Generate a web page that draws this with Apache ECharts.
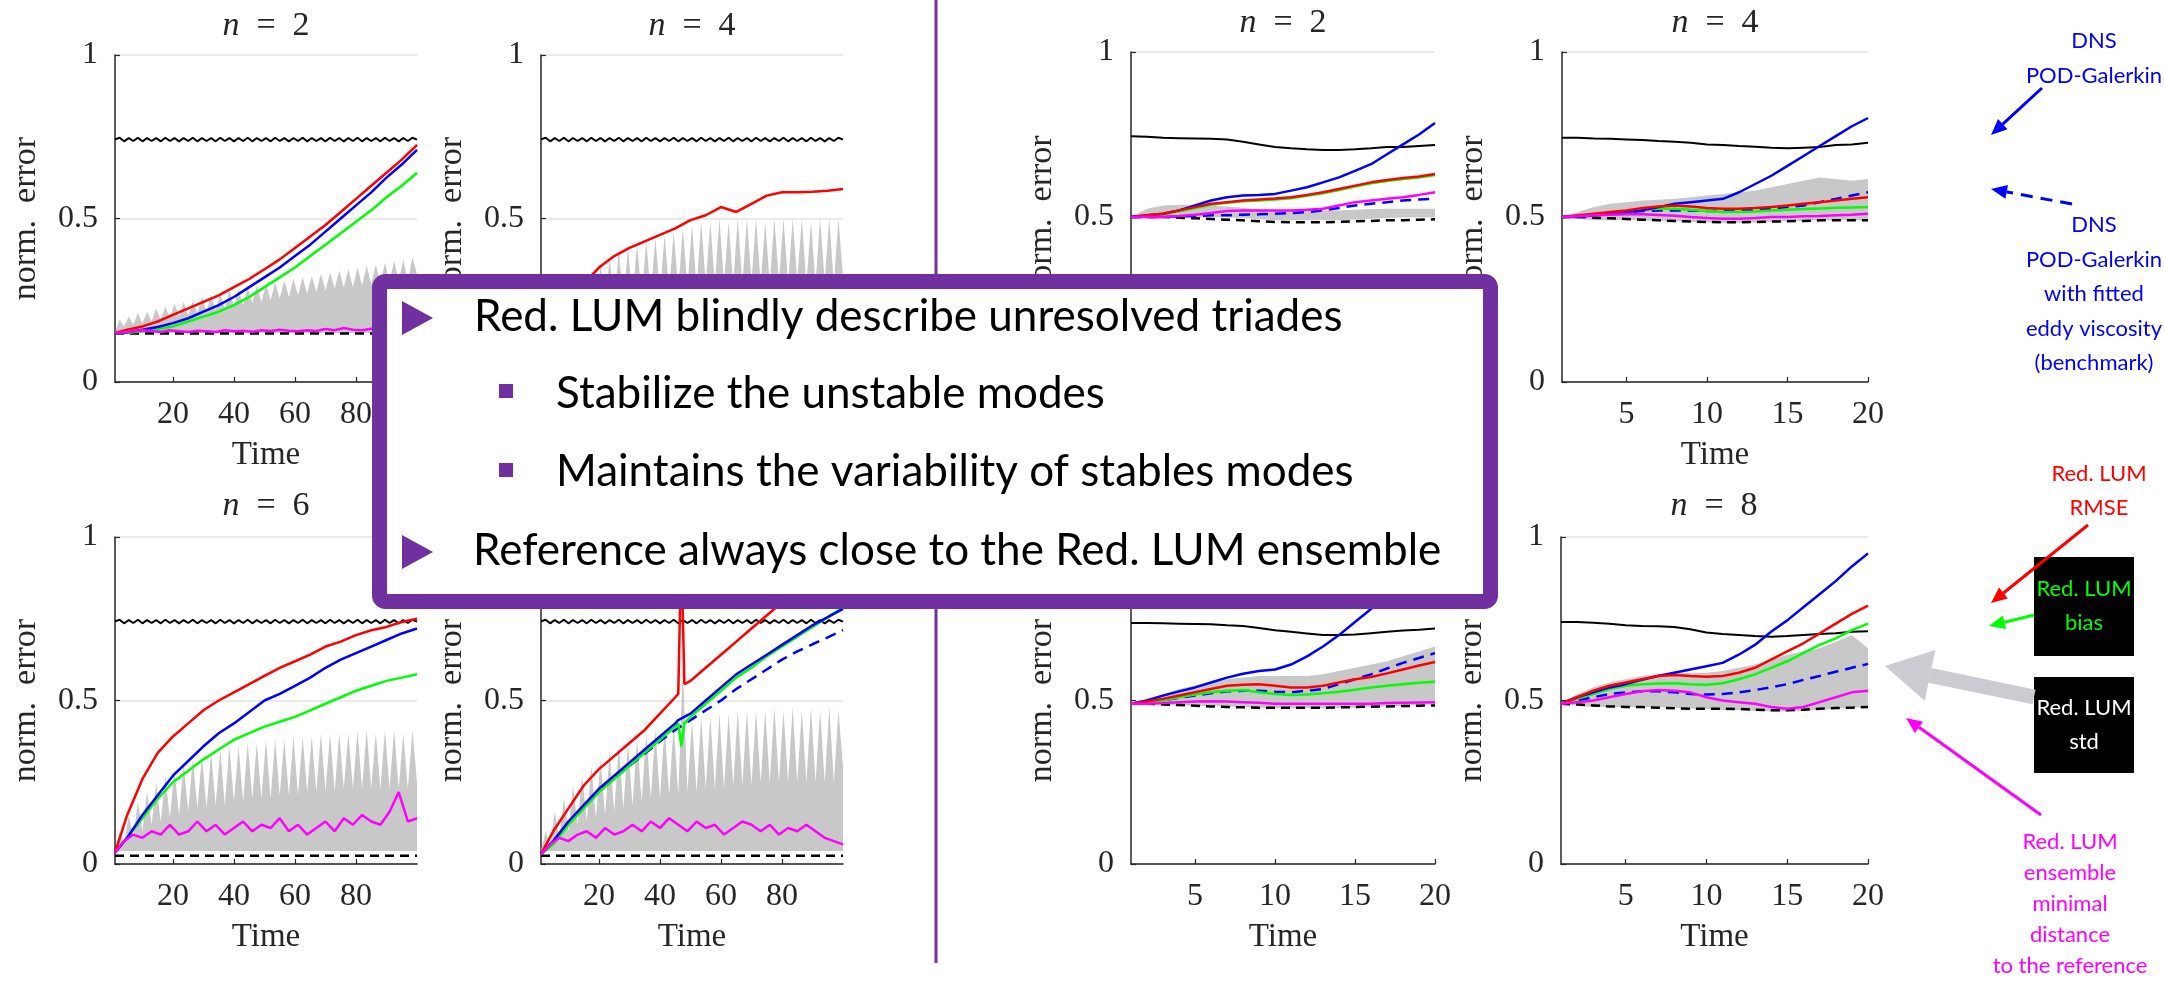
<!DOCTYPE html>
<html><head><meta charset="utf-8">
<script src="https://cdn.jsdelivr.net/npm/echarts@6/dist/echarts.min.js"></script>
<style>html,body{margin:0;padding:0;background:#fff}#c{width:2165px;height:1000px}</style>
</head><body><div id="c"></div>
<script>
// ---------------- DATA ----------------
const titlesN = [2, 4, 6, 8, 2, 4, 6, 8];
const ticksLeft = [20, 40, 60, 80];
const ticksRight = [5, 10, 15, 20];

// left panels (Time 1..100)
const tL = [1,5,10,15,20,25,30,35,40,45,50,55,60,65,70,75,80,85,90,95,100];
const tM = [1,4,7,10,13,16,19,22,25,28,31,34,37,40,43,46,49,52,55,58,61,64,67,70,73,76,79,82,85,88,91,94,97,100];
const tS = [1,2.5,4,5.5,7,8.5,10,11.5,13,14.5,16,17.5,19,20.5,22,23.5,25,26.5,28,29.5,31,32.5,34,35.5,37,38.5,40,41.5,43,44.5,46,47.5,49,50.5,52,53.5,55,56.5,58,59.5,61,62.5,64,65.5,67,68.5,70,71.5,73,74.5,76,77.5,79,80.5,82,83.5,85,86.5,88,89.5,91,92.5,94,95.5,97,98.5,100];
const tEnds = [1, 100];
const tP4 = [1,5,10,15,20,25,30,35,40,45,46,47,48,50,55,60,65,70,75,80,85,90,95,100];

const blackWaveL = [0.742,0.747,0.736,0.746,0.737,0.747,0.736,0.746,0.737,0.746,
  0.736,0.747,0.737,0.746,0.736,0.746,0.737,0.747,0.736,0.746,
  0.737,0.746,0.736,0.747,0.737,0.746,0.736,0.746,0.737,0.747,
  0.736,0.746,0.737,0.746,0.736,0.747,0.737,0.746,0.736,0.746,
  0.737,0.747,0.736,0.746,0.737,0.746,0.736,0.747,0.737,0.746,
  0.736,0.746,0.737,0.747,0.736,0.746,0.737,0.746,0.736,0.747,
  0.737,0.746,0.736,0.746,0.737,0.747,0.741];

// n=2 (left)
const bandBase1 = 0.15;
const band1 = [0.15,0.19,0.17,0.2,0.175,0.21,0.18,0.215,0.185,0.225,
  0.19,0.23,0.195,0.24,0.2,0.245,0.205,0.25,0.21,0.26,
  0.215,0.265,0.22,0.27,0.225,0.28,0.23,0.285,0.235,0.29,
  0.24,0.295,0.245,0.3,0.25,0.305,0.255,0.31,0.26,0.315,
  0.265,0.32,0.27,0.325,0.275,0.33,0.28,0.335,0.285,0.34,
  0.29,0.345,0.29,0.35,0.295,0.355,0.3,0.36,0.3,0.365,
  0.305,0.37,0.31,0.375,0.31,0.38,0.33];
const red1 = [0.15,0.16,0.17,0.185,0.205,0.225,0.245,0.265,0.29,0.315,0.345,0.375,0.41,0.445,0.48,0.52,0.56,0.6,0.64,0.68,0.725];
const blue1 = [0.15,0.152,0.16,0.168,0.18,0.195,0.215,0.235,0.26,0.29,0.32,0.35,0.385,0.42,0.46,0.5,0.54,0.58,0.625,0.665,0.71];
const green1 = [0.15,0.15,0.155,0.162,0.17,0.185,0.2,0.215,0.235,0.26,0.29,0.32,0.35,0.385,0.42,0.455,0.49,0.525,0.565,0.6,0.64];
const magenta1 = [0.15,0.152,0.155,0.158,0.156,0.153,0.158,0.155,0.153,0.157,0.155,0.153,0.158,0.155,0.157,0.154,0.158,0.156,0.16,0.157,0.155,0.158,0.156,0.162,0.158,0.165,0.16,0.158,0.163,0.16,0.165,0.162,0.16,0.163];
const refDash1 = [0.148, 0.148];

// n=4 (left)
const bandBase2 = 0.1;
const band2 = [0.1,0.2,0.14,0.24,0.16,0.27,0.18,0.3,0.2,0.32,
  0.21,0.34,0.22,0.36,0.23,0.38,0.24,0.4,0.25,0.41,
  0.26,0.42,0.26,0.43,0.27,0.44,0.27,0.45,0.28,0.46,
  0.28,0.47,0.29,0.48,0.29,0.49,0.3,0.49,0.3,0.5,
  0.3,0.49,0.3,0.5,0.3,0.5,0.31,0.5,0.3,0.49,
  0.3,0.5,0.31,0.5,0.3,0.5,0.31,0.5,0.3,0.49,
  0.3,0.5,0.31,0.5,0.3,0.5,0.32];
const red2 = [0.1,0.16,0.23,0.3,0.35,0.385,0.41,0.43,0.45,0.47,0.495,0.51,0.535,0.52,0.545,0.57,0.58,0.58,0.582,0.585,0.59];
const blue2 = [0.1,0.105,0.115,0.125,0.135,0.145,0.155,0.17,0.18,0.19,0.2,0.215,0.225,0.235,0.25,0.26,0.27,0.285,0.295,0.305,0.315];
const green2 = [0.1,0.102,0.108,0.115,0.122,0.13,0.138,0.147,0.155,0.163,0.172,0.18,0.19,0.198,0.207,0.215,0.225,0.233,0.242,0.25,0.26];
const magenta2 = [0.1,0.11,0.12,0.11,0.12,0.13,0.12,0.13,0.12,0.13,0.14,0.12,0.13,0.14,0.13,0.12,0.14,0.13,0.12,0.13,0.14,0.13,0.12,0.13,0.14,0.13,0.12,0.14,0.13,0.12,0.13,0.14,0.13,0.12];
const refDash2 = [0.095, 0.095];

// n=6 (left)
const bandBase3 = 0.04;
const band3 = [0.04,0.1,0.06,0.15,0.08,0.19,0.1,0.22,0.12,0.25,
  0.13,0.27,0.14,0.29,0.15,0.31,0.16,0.32,0.17,0.33,
  0.17,0.34,0.18,0.35,0.18,0.36,0.19,0.36,0.19,0.37,
  0.2,0.37,0.2,0.38,0.2,0.38,0.21,0.38,0.21,0.39,
  0.21,0.39,0.22,0.39,0.22,0.4,0.22,0.4,0.22,0.4,
  0.23,0.4,0.23,0.41,0.23,0.41,0.23,0.4,0.23,0.41,
  0.23,0.41,0.23,0.4,0.23,0.41,0.25];
const red3 = [0.035,0.15,0.26,0.34,0.39,0.43,0.47,0.5,0.525,0.55,0.575,0.6,0.62,0.64,0.665,0.68,0.7,0.715,0.725,0.74,0.75];
const blue3 = [0.035,0.08,0.15,0.21,0.27,0.315,0.36,0.4,0.43,0.465,0.5,0.52,0.545,0.57,0.6,0.625,0.645,0.665,0.685,0.705,0.72];
const green3 = [0.035,0.08,0.14,0.2,0.25,0.285,0.32,0.35,0.38,0.4,0.42,0.435,0.45,0.47,0.49,0.51,0.53,0.545,0.56,0.57,0.58];
const magenta3 = [0.035,0.07,0.09,0.08,0.1,0.09,0.12,0.09,0.1,0.13,0.1,0.12,0.09,0.11,0.13,0.1,0.12,0.11,0.14,0.1,0.12,0.09,0.11,0.13,0.1,0.14,0.12,0.15,0.13,0.12,0.16,0.22,0.13,0.14];
const refDash3 = [0.025, 0.025];

// n=8 (left)
const bandBase4 = 0.04;
const band4 = [0.04,0.1,0.06,0.16,0.08,0.2,0.1,0.24,0.12,0.27,
  0.13,0.3,0.14,0.32,0.15,0.34,0.16,0.36,0.17,0.37,
  0.18,0.38,0.19,0.4,0.2,0.41,0.2,0.42,0.21,0.43,
  0.21,0.6,0.22,0.44,0.22,0.45,0.23,0.45,0.23,0.46,
  0.23,0.46,0.24,0.47,0.24,0.47,0.24,0.47,0.25,0.47,
  0.25,0.48,0.25,0.47,0.25,0.48,0.25,0.47,0.25,0.48,
  0.25,0.47,0.25,0.48,0.25,0.47,0.3];
const red4 = [0.03,0.1,0.17,0.24,0.29,0.33,0.37,0.41,0.46,0.51,0.52,0.97,0.55,0.56,0.6,0.64,0.68,0.72,0.76,0.8,0.84,0.87,0.9,0.93];
const blue4 = [0.03,0.07,0.13,0.18,0.23,0.27,0.31,0.35,0.39,0.43,0.44,0.445,0.45,0.46,0.5,0.54,0.58,0.61,0.64,0.67,0.7,0.73,0.755,0.78];
const green4 = [0.03,0.06,0.12,0.17,0.22,0.26,0.3,0.34,0.38,0.42,0.43,0.36,0.43,0.45,0.49,0.53,0.57,0.6,0.635,0.665,0.695,0.725,0.755,0.785];
const blueDash4 = [0.03,0.065,0.125,0.172,0.222,0.262,0.3,0.337,0.375,0.41,0.44,0.47,0.5,0.535,0.565,0.595,0.625,0.65,0.672,0.693,0.715];
const magenta4 = [0.03,0.06,0.08,0.07,0.09,0.1,0.08,0.11,0.09,0.1,0.12,0.1,0.13,0.11,0.14,0.12,0.1,0.13,0.11,0.12,0.09,0.11,0.13,0.12,0.1,0.12,0.09,0.11,0.1,0.12,0.1,0.08,0.07,0.06];
const refDash4 = [0.025, 0.025];

// right panels (Time 1..20)
const tR = [1,2,3,4,5,6,7,8,9,10,11,12,13,14,15,16,17,18,19,20];
// n=2 (right)
const black5 = [0.745,0.743,0.74,0.739,0.738,0.737,0.735,0.728,0.72,0.712,0.708,0.705,0.703,0.703,0.705,0.708,0.712,0.712,0.715,0.718];
const blue5 = [0.5,0.505,0.51,0.52,0.535,0.55,0.56,0.565,0.567,0.57,0.58,0.59,0.605,0.62,0.64,0.66,0.69,0.72,0.75,0.785];
const red5 = [0.5,0.505,0.51,0.52,0.53,0.54,0.545,0.55,0.553,0.556,0.56,0.567,0.575,0.585,0.595,0.605,0.612,0.618,0.623,0.63];
const green5 = [0.5,0.503,0.508,0.517,0.527,0.537,0.543,0.548,0.55,0.553,0.557,0.564,0.572,0.582,0.592,0.602,0.609,0.615,0.62,0.627];
const magenta5 = [0.5,0.5,0.5,0.503,0.507,0.512,0.518,0.52,0.52,0.52,0.52,0.522,0.525,0.535,0.545,0.55,0.555,0.56,0.567,0.575];
const blueDash5 = [0.5,0.5,0.5,0.502,0.503,0.505,0.505,0.507,0.508,0.51,0.512,0.515,0.52,0.527,0.535,0.54,0.545,0.55,0.553,0.555];
const blackDash5 = [0.5,0.5,0.5,0.498,0.496,0.494,0.492,0.49,0.487,0.485,0.484,0.484,0.484,0.485,0.487,0.488,0.49,0.49,0.492,0.493];
const grayLo5 = [0.5,0.5,0.5,0.5,0.5,0.5,0.5,0.497,0.493,0.49,0.49,0.49,0.49,0.49,0.492,0.495,0.497,0.5,0.5,0.5];
const grayHi5 = [0.5,0.525,0.535,0.537,0.537,0.535,0.532,0.528,0.523,0.52,0.52,0.52,0.52,0.52,0.522,0.524,0.525,0.525,0.525,0.525];
// n=4 (right)
const black6 = [0.74,0.74,0.738,0.737,0.735,0.733,0.73,0.728,0.725,0.72,0.718,0.715,0.713,0.71,0.708,0.71,0.712,0.718,0.72,0.725];
const blue6 = [0.5,0.5,0.505,0.51,0.515,0.52,0.53,0.54,0.545,0.55,0.555,0.575,0.6,0.625,0.655,0.685,0.715,0.745,0.775,0.8];
const red6 = [0.5,0.505,0.51,0.515,0.52,0.527,0.532,0.535,0.532,0.527,0.525,0.525,0.527,0.53,0.535,0.54,0.545,0.55,0.555,0.56];
const green6 = [0.5,0.503,0.508,0.513,0.518,0.523,0.525,0.525,0.522,0.518,0.515,0.515,0.517,0.52,0.522,0.524,0.526,0.528,0.529,0.53];
const magenta6 = [0.5,0.502,0.505,0.507,0.508,0.508,0.506,0.504,0.5,0.497,0.495,0.495,0.497,0.5,0.5,0.502,0.503,0.505,0.507,0.51];
const blueDash6 = [0.5,0.503,0.507,0.512,0.515,0.518,0.52,0.52,0.52,0.518,0.518,0.52,0.522,0.525,0.53,0.535,0.545,0.555,0.565,0.575];
const blackDash6 = [0.5,0.5,0.498,0.496,0.494,0.492,0.49,0.488,0.486,0.485,0.484,0.484,0.485,0.486,0.487,0.488,0.49,0.49,0.49,0.49];
const grayLo6 = [0.5,0.495,0.49,0.49,0.49,0.49,0.488,0.486,0.485,0.483,0.482,0.482,0.483,0.485,0.487,0.488,0.49,0.49,0.49,0.49];
const grayHi6 = [0.5,0.515,0.53,0.54,0.545,0.55,0.552,0.555,0.56,0.565,0.57,0.575,0.58,0.59,0.6,0.61,0.62,0.615,0.61,0.615];
// n=6 (right)
const black7 = [0.737,0.737,0.736,0.735,0.734,0.733,0.73,0.728,0.722,0.715,0.71,0.705,0.7,0.7,0.702,0.706,0.71,0.714,0.716,0.72];
const blue7 = [0.49,0.5,0.515,0.528,0.54,0.555,0.57,0.582,0.59,0.595,0.61,0.635,0.665,0.7,0.74,0.78,0.82,0.86,0.9,0.94];
const red7 = [0.49,0.497,0.505,0.515,0.525,0.535,0.545,0.548,0.55,0.545,0.54,0.54,0.545,0.555,0.565,0.572,0.583,0.595,0.607,0.618];
const green7 = [0.49,0.494,0.5,0.51,0.518,0.525,0.53,0.532,0.525,0.52,0.517,0.518,0.522,0.527,0.533,0.54,0.545,0.55,0.554,0.557];
const magenta7 = [0.49,0.49,0.492,0.495,0.497,0.498,0.497,0.495,0.493,0.49,0.49,0.49,0.49,0.49,0.49,0.49,0.492,0.493,0.494,0.495];
const blueDash7 = [0.49,0.494,0.5,0.508,0.515,0.522,0.528,0.53,0.53,0.527,0.525,0.53,0.535,0.55,0.565,0.58,0.598,0.615,0.63,0.645];
const blackDash7 = [0.49,0.49,0.488,0.486,0.484,0.482,0.48,0.479,0.478,0.478,0.478,0.478,0.478,0.479,0.48,0.481,0.482,0.483,0.484,0.485];
const grayLo7 = [0.49,0.488,0.486,0.485,0.484,0.483,0.482,0.48,0.478,0.477,0.476,0.476,0.476,0.477,0.478,0.48,0.482,0.484,0.486,0.488];
const grayHi7 = [0.49,0.505,0.52,0.535,0.545,0.555,0.565,0.57,0.575,0.575,0.575,0.575,0.58,0.59,0.6,0.61,0.62,0.635,0.65,0.665];
// n=8 (right)
const black8 = [0.74,0.74,0.738,0.735,0.73,0.728,0.727,0.725,0.718,0.708,0.703,0.7,0.697,0.695,0.697,0.7,0.703,0.706,0.71,0.712];
const blue8 = [0.49,0.51,0.525,0.54,0.55,0.563,0.575,0.585,0.595,0.605,0.615,0.64,0.67,0.71,0.745,0.785,0.825,0.865,0.91,0.95];
const red8 = [0.49,0.51,0.53,0.545,0.555,0.565,0.575,0.578,0.575,0.573,0.575,0.585,0.6,0.625,0.65,0.675,0.705,0.735,0.765,0.79];
const green8 = [0.49,0.505,0.52,0.535,0.545,0.55,0.552,0.553,0.55,0.548,0.553,0.565,0.58,0.6,0.62,0.645,0.67,0.69,0.715,0.735];
const magenta8 = [0.49,0.495,0.5,0.51,0.52,0.528,0.532,0.53,0.525,0.51,0.5,0.495,0.49,0.48,0.475,0.48,0.495,0.51,0.525,0.53];
const blueDash8 = [0.49,0.5,0.51,0.52,0.525,0.528,0.528,0.525,0.52,0.518,0.52,0.525,0.532,0.54,0.55,0.563,0.575,0.588,0.6,0.612];
const blackDash8 = [0.49,0.488,0.485,0.482,0.48,0.48,0.478,0.476,0.475,0.475,0.475,0.474,0.472,0.47,0.47,0.472,0.475,0.477,0.478,0.48];
const grayLo8 = [0.49,0.485,0.48,0.48,0.48,0.48,0.48,0.478,0.475,0.475,0.47,0.47,0.468,0.466,0.466,0.468,0.472,0.475,0.478,0.48];
const grayHi8 = [0.49,0.52,0.54,0.555,0.565,0.575,0.58,0.585,0.585,0.585,0.59,0.6,0.61,0.625,0.64,0.65,0.66,0.68,0.7,0.66];

// slide texts
const boxLines = ['Red. LUM blindly describe unresolved triades', 'Stabilize the unstable modes', 'Maintains the variability of stables modes', 'Reference always close to the Red. LUM ensemble'];
const noteDNS = ['DNS', 'POD-Galerkin'];
const noteDNSfit = ['DNS', 'POD-Galerkin', 'with fitted', 'eddy viscosity', '(benchmark)'];
const noteRMSE = ['Red. LUM', 'RMSE'];
const noteBias = ['Red. LUM', 'bias'];
const noteStd = ['Red. LUM', 'std'];
const noteMin = ['Red. LUM', 'ensemble', 'minimal', 'distance', 'to the reference'];

// ---------------- CHART ----------------
const SERIF = 'Liberation Serif';
const SANS = 'Lato';
const AX = '#262626';
const GRAY = '#c8c8c8';
const PURPLE = '#7030A0';
const C = {red:'#ff0000', blue:'#0000ff', green:'#00ff00', mag:'#ff00ff', black:'#000000'};
const BOX_FONT = 44;
const NOTE_FONT = 22;

const grids = [
  {left:115, top:55, width:302, height:327, cx:266, ty:9, right:false},
  {left:541, top:55, width:302, height:327, cx:692, ty:9, right:false},
  {left:115, top:537, width:302, height:327, cx:266, ty:489, right:false},
  {left:541, top:537, width:302, height:327, cx:692, ty:489, right:false},
  {left:1131, top:52, width:304, height:330, cx:1283, ty:6, right:true},
  {left:1562, top:52, width:306, height:330, cx:1715, ty:6, right:true},
  {left:1131, top:537, width:304, height:327, cx:1283, ty:489, right:true},
  {left:1561, top:537, width:307, height:327, cx:1714, ty:489, right:true}
];

const xAxes = grids.map((g, i) => ({
  gridIndex: i, type: 'value', min: 1, max: g.right ? 20 : 100,
  axisLine: {show: true, onZero: false, lineStyle: {color: AX, width: 1.5}},
  axisTick: {show: true, inside: true, length: 5, customValues: g.right ? ticksRight : ticksLeft, lineStyle: {color: AX, width: 1.2}},
  axisLabel: {customValues: g.right ? ticksRight : ticksLeft, margin: 17, fontFamily: SERIF, fontSize: 32, color: AX},
  splitLine: {show: false},
  name: 'Time', nameLocation: 'middle', nameGap: 57,
  nameTextStyle: {fontFamily: SERIF, fontSize: 33, color: AX}
}));
const yAxes = grids.map((g, i) => ({
  gridIndex: i, type: 'value', min: 0, max: 1, interval: 0.5,
  axisLine: {show: true, lineStyle: {color: AX, width: 1.5}},
  axisTick: {show: true, inside: true, length: 5, lineStyle: {color: AX, width: 1.2}},
  axisLabel: {margin: 17, fontFamily: SERIF, fontSize: 32, color: AX},
  splitLine: {show: true, lineStyle: {color: '#e3e3e3', width: 1.5}},
  name: 'norm.  error', nameLocation: 'middle', nameGap: 72,
  nameTextStyle: {fontFamily: SERIF, fontSize: 34, color: AX}
}));

const series = [];
const zip = (t, v) => t.map((x, k) => [x, v[k]]);
function L(i, t, v, color, w, dash) {
  series.push({type: 'line', xAxisIndex: i, yAxisIndex: i, data: zip(t, v), symbol: 'none', silent: true,
    lineStyle: {color: color, width: w, type: dash || 'solid'}});
}
function bandOrigin(i, t, v, base) {
  series.push({type: 'line', xAxisIndex: i, yAxisIndex: i, data: zip(t, v), symbol: 'none', silent: true,
    lineStyle: {width: 0, opacity: 0}, areaStyle: {color: GRAY, opacity: 1, origin: base}});
}
function bandRange(i, t, lo, hi) {
  series.push({type: 'custom', xAxisIndex: i, yAxisIndex: i, silent: true, clip: true,
    data: t.map((x, k) => [x, lo[k], hi[k]]),
    encode: {x: 0, y: [1, 2]},
    renderItem: function (params, api) {
      if (params.dataIndex !== 0) return null;
      const top = t.map((x, k) => api.coord([x, hi[k]]));
      const bot = t.map((x, k) => api.coord([x, lo[k]])).reverse();
      return {type: 'polygon', shape: {points: top.concat(bot)}, style: {fill: GRAY}};
    }});
}
const DASHK = [9, 6], DASHB = [11, 7];
const LW = 2.5;
// left n=2
bandOrigin(0, tS, band1, bandBase1);
L(0, tS, blackWaveL, C.black, 2);
L(0, tEnds, refDash1, C.black, 2.5, DASHK);
L(0, tL, green1, C.green, LW); L(0, tL, blue1, C.blue, LW); L(0, tL, red1, C.red, LW); L(0, tM, magenta1, C.mag, LW);
// left n=4
bandOrigin(1, tS, band2, bandBase2);
L(1, tS, blackWaveL, C.black, 2);
L(1, tEnds, refDash2, C.black, 2.5, DASHK);
L(1, tL, green2, C.green, LW); L(1, tL, blue2, C.blue, LW); L(1, tL, red2, C.red, LW); L(1, tM, magenta2, C.mag, LW);
// left n=6
bandOrigin(2, tS, band3, bandBase3);
L(2, tS, blackWaveL, C.black, 2);
L(2, tEnds, refDash3, C.black, 2.5, DASHK);
L(2, tL, green3, C.green, LW); L(2, tL, blue3, C.blue, LW); L(2, tL, red3, C.red, LW); L(2, tM, magenta3, C.mag, LW);
// left n=8
bandOrigin(3, tS, band4, bandBase4);
L(3, tS, blackWaveL, C.black, 2);
L(3, tEnds, refDash4, C.black, 2.5, DASHK);
L(3, tL, blueDash4, C.blue, LW, DASHB);
L(3, tP4, green4, C.green, LW); L(3, tP4, blue4, C.blue, LW); L(3, tP4, red4, C.red, LW); L(3, tM, magenta4, C.mag, LW);
// right panels
const R = [
  [black5, blackDash5, blueDash5, green5, blue5, red5, magenta5, grayLo5, grayHi5],
  [black6, blackDash6, blueDash6, green6, blue6, red6, magenta6, grayLo6, grayHi6],
  [black7, blackDash7, blueDash7, green7, blue7, red7, magenta7, grayLo7, grayHi7],
  [black8, blackDash8, blueDash8, green8, blue8, red8, magenta8, grayLo8, grayHi8]
];
R.forEach((d, j) => {
  const i = 4 + j;
  bandRange(i, tR, d[7], d[8]);
  L(i, tR, d[0], C.black, 2);
  L(i, tR, d[1], C.black, 2.5, DASHK);
  L(i, tR, d[2], C.blue, LW, DASHB);
  L(i, tR, d[3], C.green, LW);
  L(i, tR, d[4], C.blue, LW);
  L(i, tR, d[5], C.red, LW);
  L(i, tR, d[6], C.mag, LW);
});

const titles = grids.map((g, i) => ({
  text: '{i|n}  =  ' + titlesN[i], left: g.cx, top: g.ty, textAlign: 'center', padding: 0,
  textStyle: {fontFamily: SERIF, fontSize: 34, fontWeight: 'normal', color: AX,
    rich: {i: {fontFamily: SERIF, fontStyle: 'italic', fontSize: 34, color: AX}}}
}));

// ---------------- GRAPHICS (slide overlay) ----------------
const G = [];
function T(text, x, y, size, color, align) {
  G.push({type: 'text', z: 102, style: {text: text, x: x, y: y, fontSize: size, fontFamily: SANS, fill: color,
    align: align || 'left', verticalAlign: 'middle', textAlign: align || 'left', textVerticalAlign: 'middle'}});
}
function arrow(x1, y1, x2, y2, color, w, hl, hw, dash) {
  const a = Math.atan2(y2 - y1, x2 - x1);
  const bx = x2 - hl * Math.cos(a), by = y2 - hl * Math.sin(a);
  const px = -Math.sin(a) * hw / 2, py = Math.cos(a) * hw / 2;
  G.push({type: 'line', z: 101, shape: {x1: x1, y1: y1, x2: bx, y2: by}, style: {stroke: color, lineWidth: w, lineDash: dash || null}});
  G.push({type: 'polygon', z: 101, shape: {points: [[x2, y2], [bx + px, by + py], [bx - px, by - py]]}, style: {fill: color}});
}
// divider
G.push({type: 'line', z: 90, shape: {x1: 936, y1: 0, x2: 936, y2: 963}, style: {stroke: PURPLE, lineWidth: 3}});
// box
G.push({type: 'rect', z: 100, shape: {x: 379.5, y: 281.5, width: 1111, height: 320, r: 6}, style: {fill: '#ffffff', stroke: PURPLE, lineWidth: 15}});
G.push({type: 'polygon', z: 101, shape: {points: [[402, 301], [433, 318], [402, 335]]}, style: {fill: PURPLE}});
G.push({type: 'polygon', z: 101, shape: {points: [[402, 535], [433, 552], [402, 569]]}, style: {fill: PURPLE}});
G.push({type: 'rect', z: 101, shape: {x: 499, y: 384, width: 14, height: 14}, style: {fill: PURPLE}});
G.push({type: 'rect', z: 101, shape: {x: 499, y: 463, width: 14, height: 14}, style: {fill: PURPLE}});
T(boxLines[0], 474, 317, BOX_FONT, '#000');
T(boxLines[1], 556, 394, BOX_FONT, '#000');
T(boxLines[2], 556, 472, BOX_FONT, '#000');
T(boxLines[3], 473, 551, BOX_FONT, '#000');

// right-hand notes
noteDNS.forEach((s, k) => T(s, 2094, 41 + 35 * k, NOTE_FONT, C.blue, 'center'));
noteDNSfit.forEach((s, k) => T(s, 2094, 225 + 34.5 * k, NOTE_FONT, C.blue, 'center'));
noteRMSE.forEach((s, k) => T(s, 2099, 474 + 34 * k, NOTE_FONT, C.red, 'center'));
G.push({type: 'rect', z: 100, shape: {x: 2034, y: 557, width: 100, height: 99}, style: {fill: '#000'}});
G.push({type: 'rect', z: 100, shape: {x: 2034, y: 677, width: 100, height: 96}, style: {fill: '#000'}});
noteBias.forEach((s, k) => T(s, 2084, 589 + 34 * k, NOTE_FONT, C.green, 'center'));
noteStd.forEach((s, k) => T(s, 2084, 708 + 34 * k, NOTE_FONT, '#ffffff', 'center'));
noteMin.forEach((s, k) => T(s, 2070, 842 + 31 * k, NOTE_FONT, C.mag, 'center'));

arrow(2042, 88, 1991, 135, C.blue, 3, 16, 14);
arrow(2072, 204, 1991, 189, C.blue, 3, 16, 14, [12, 8]);
arrow(2088, 525, 1991, 603, C.red, 3, 16, 14);
arrow(2034, 615, 1989, 626, C.green, 3, 16, 14);
arrow(2034, 697, 1885, 666, '#cccbd1', 15, 46, 52);
arrow(2041, 815, 1906, 718, C.mag, 3, 16, 14);

const chart = echarts.init(document.getElementById('c'), null, {width: 2165, height: 1000, renderer: 'canvas'});
chart.setOption({
  backgroundColor: '#ffffff',
  animation: false,
  title: titles,
  grid: grids.map(g => ({left: g.left, top: g.top, width: g.width, height: g.height, containLabel: false})),
  xAxis: xAxes,
  yAxis: yAxes,
  series: series,
  graphic: {elements: G}
});
</script></body></html>
